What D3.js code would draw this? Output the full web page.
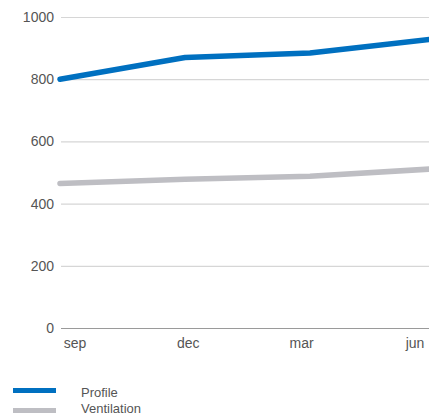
<!DOCTYPE html>
<html><head><meta charset="utf-8">
<script src="https://cdn.jsdelivr.net/npm/d3@7"></script>
<style>
html,body{margin:0;padding:0;background:#fff;overflow:hidden;}
svg{display:block;font-family:"Liberation Sans",Arial,Helvetica,sans-serif;}
</style></head>
<body>
<script>
const months = ["sep","dec","mar","jun"];
const profile = [800, 870, 884, 930];
const ventilation = [465, 478, 488, 512];
const yTicks = [0,200,400,600,800,1000];
const seriesNames = ["Profile","Ventilation"];
const seriesColors = ["#0070c0","#bebec3"];

const W = 429, H = 414;
const svg = d3.select("body").append("svg").attr("width",W).attr("height",H);

const x = d3.scalePoint().domain(months).range([60, 435]);
const xLabel = d3.scalePoint().domain(months).range([75, 415]);
const y = d3.scaleLinear().domain([0,1000]).range([328, 17]);

// gridlines
svg.append("g").selectAll("line").data(yTicks).join("line")
  .attr("x1", 61).attr("x2", W)
  .attr("y1", d=>y(d)+0.5).attr("y2", d=>y(d)+0.5)
  .attr("stroke", d=> d===0 ? "#9a9a9a" : "#d6d6d6")
  .attr("stroke-width", 1.2);

// y labels
svg.append("g").selectAll("text").data(yTicks).join("text")
  .attr("x", 54).attr("y", d=>y(d)).attr("dy","0.35em")
  .attr("text-anchor","end").attr("font-size",14).attr("fill","#555")
  .text(d=>d);

// x labels
svg.append("g").selectAll("text").data(months).join("text")
  .attr("x", d=>xLabel(d)).attr("y", 348)
  .attr("text-anchor","middle").attr("font-size",14).attr("fill","#555")
  .text(d=>d);

const line = d3.line().x((d,i)=>x(months[i])).y(d=>y(d));
[ventilation, profile].forEach((s,k)=>{
  svg.append("path").datum(s).attr("d", line)
    .attr("fill","none")
    .attr("stroke", k===0 ? seriesColors[1] : seriesColors[0])
    .attr("stroke-width", 5.5)
    .attr("stroke-linecap","round").attr("stroke-linejoin","round");
});

// legend
const lg = svg.append("g");
seriesNames.forEach((n,i)=>{
  lg.append("rect").attr("x",13).attr("y",388 + i*20).attr("width",43).attr("height",5)
    .attr("fill", seriesColors[i]);
  lg.append("text").attr("x",81).attr("y",397 + i*16).attr("font-size",13).attr("fill","#555").text(n);
});
</script>
</body></html>
